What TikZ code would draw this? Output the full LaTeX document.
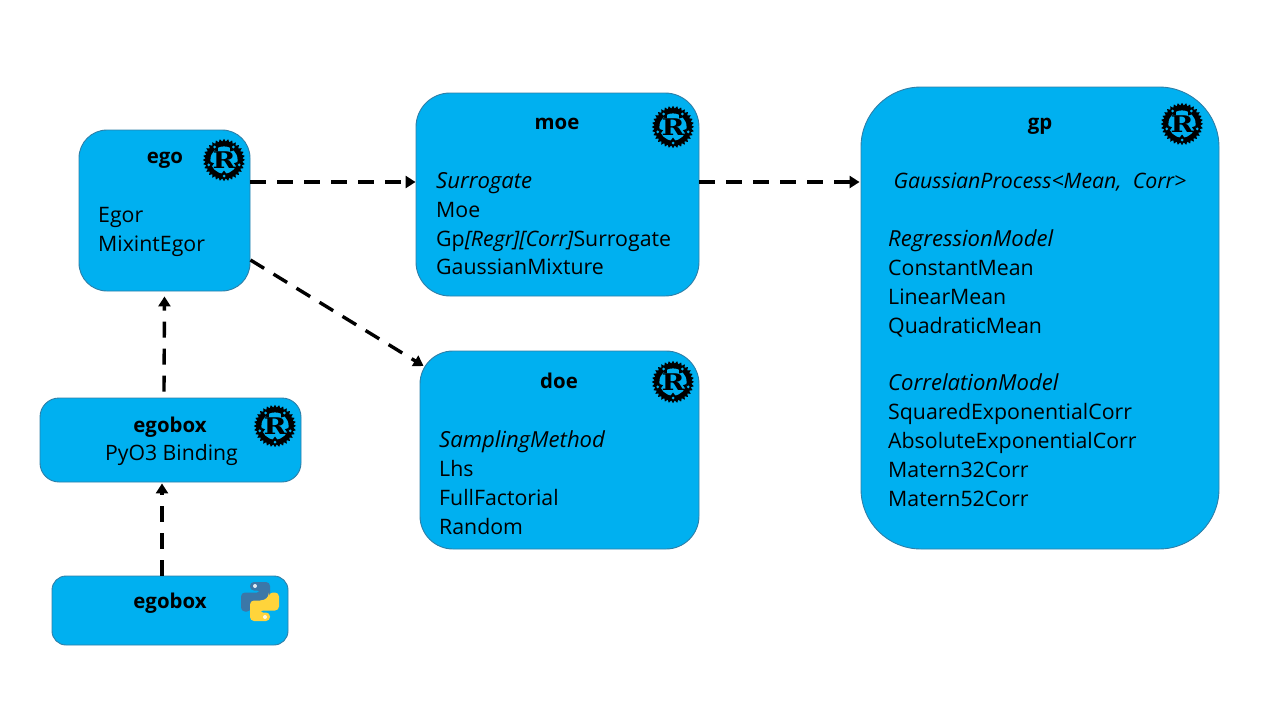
\documentclass[tikz,border=0pt]{standalone}
\usepackage{fontspec}
\setmainfont{Open Sans}
\newfontfamily\logofont{DejaVu Serif}
\usetikzlibrary{arrows.meta,calc}
\definecolor{boxblue}{HTML}{00B0F0}
\definecolor{boxedge}{HTML}{2E7FA8}
\definecolor{pyblue}{HTML}{3B77A8}
\definecolor{pyyellow}{HTML}{FFD43B}
\newcommand{\kindname}[1]{{\fontsize{22.1}{28.9}\selectfont\itshape #1}}
\tikzset{
  crate/.style={draw=boxedge,line width=0.9pt,fill=boxblue,minimum width=#1,inner sep=0pt},
  title/.style={font=\fontsize{20.4}{24}\selectfont\bfseries,inner sep=0pt,text=black},
  body/.style={font=\fontsize{21.3}{28.9}\selectfont,align=left,anchor=north west,inner sep=0pt,text=black},
  dep/.style={draw=black,line width=3.4pt,dash pattern=on 16pt off 11pt,-{Triangle[length=10pt,width=12pt]}},
  rustlogo/.pic={
    \fill[black] (0:20.5)
      \foreach \a in {1,...,32}{ -- (\a*11.25-5.625:18.4) -- (\a*11.25:21.2) } -- cycle;
    \fill[boxblue] (0,0) circle (13.6);
    \foreach \a in {18,90,162,234,306}{
      \fill[black] (\a-10:14) -- (\a+10:14) -- (\a:10.5) -- cycle;
      \fill[boxblue] (\a:16) circle (1.5);
    }
    \node[inner sep=0pt,text=black,xscale=1.2,font=\logofont\bfseries\fontsize{23}{23}\selectfont] (-logoR) at (0,0.5) {R};
  },
  pylogo/.pic={
    \fill[pyblue,rounded corners=4pt] (-10,-19.5) -- (10,-19.5) -- (10,2) -- (-4,2) -- (-9,6) -- (-9,10) -- (-19,10) -- (-19,-9) -- (1,-9) -- (1,-11) -- (-10,-11) -- cycle;
    \fill[pyyellow,rounded corners=4pt] (10,19.5) -- (-10,19.5) -- (-10,-1) -- (4,-1) -- (9,-5) -- (9,-9) -- (19,-9) -- (19,9) -- (-1,9) -- (-1,11) -- (10,11) -- cycle;
    \fill[white!85!pyblue] (-5,-15.5) circle (2);
    \fill[white!85!pyyellow] (5,15.5) circle (2);
  },
}
\begin{document}
\begin{tikzpicture}[x=1pt,y=-1pt]
\useasboundingbox (0,0) rectangle (1280,720);
% boxes
\node[crate=171pt,minimum height=161pt,rounded corners=28pt] (ego) at (164.5,210.5) {};
\node[crate=283pt,minimum height=203pt,rounded corners=34pt] (moe) at (557.5,194.5) {};
\node[crate=279pt,minimum height=198pt,rounded corners=33pt] (doe) at (559.5,450) {};
\node[crate=358pt,minimum height=462pt,rounded corners=60pt] (gp) at (1040,318) {};
\node[crate=261pt,minimum height=84pt,rounded corners=19pt] (bind) at (170.5,440) {};
\node[crate=236pt,minimum height=69pt,rounded corners=14pt] (py) at (170,610.5) {};
% titles
\node[title] (egot) at (165,160.5) {ego};
\node[title] (moet) at (557,123.5) {moe};
\node[title] (doet) at (559,381) {doe};
\node[title] (gpt) at (1040,126) {gp};
\node[title] (bindt) at (170,427.5) {egobox};
\node[title] (pyt) at (170,603.5) {egobox};
% bodies
\node[body] (egob) at (98,207) {Egor\\MixintEgor};
\node[body] (moeb) at (436,172) {\kindname{Surrogate}\\Moe\\Gp\textit{[Regr][Corr]}Surrogate\\GaussianMixture};
\node[body] (doeb) at (439,430.5) {\kindname{SamplingMethod}\\Lhs\\FullFactorial\\Random};
\node[body,anchor=center] (gpa) at (1040,182) {\textit{GaussianProcess<Mean,\ \ Corr>}};
\node[body] (gpb) at (888,230) {\kindname{RegressionModel}\\ConstantMean\\LinearMean\\QuadraticMean};
\node[body] (gpc) at (888,374) {\kindname{CorrelationModel}\\SquaredExponentialCorr\\AbsoluteExponentialCorr\\Matern32Corr\\Matern52Corr};
\node[font=\fontsize{21.2}{24}\selectfont,inner sep=0pt] (bindb) at (171.5,455) {PyO3 Binding};
% logos
\pic (l1) at (224,160) {rustlogo};
\pic (l2) at (673,127) {rustlogo};
\pic (l3) at (673,382) {rustlogo};
\pic (l4) at (1182,124) {rustlogo};
\pic (l5) at (275,426) {rustlogo};
\pic (l6) at (260,601.5) {pylogo};
% connectors
\draw[dep] ([yshift=28.5pt]ego.east) -- ([yshift=12.5pt]moe.west);
\draw[dep] ([yshift=12.5pt]moe.east) -- ([yshift=136pt,xshift=-1pt]gp.west);
\draw[dep] ([yshift=-49.5pt]ego.east) -- ([xshift=4pt,yshift=84pt]doe.west);
\draw[dep] ([xshift=-0.5pt,yshift=6pt]bind.north -| ego.south) -- ([yshift=-5pt]ego.south);
\draw[dep] ([xshift=-8pt]py.north) -- ([xshift=-8.5pt,yshift=-1pt]bind.south);
\end{tikzpicture}
\end{document}
